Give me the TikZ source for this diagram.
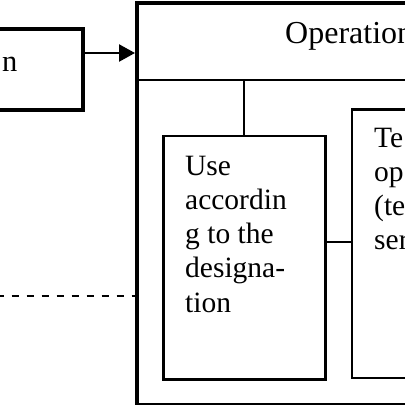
\documentclass[tikz,border=0pt]{standalone}
\usepackage{fontspec}
\setmainfont{Liberation Serif}
\usetikzlibrary{arrows.meta}
\begin{document}
\begin{tikzpicture}[x=1pt,y=-1pt,
  heavybox/.style={draw, line width=4.3pt, rectangle, inner sep=0pt, anchor=north west},
  lightbox/.style={draw, line width=2.5pt, rectangle, inner sep=0pt, anchor=north west},
  thinline/.style={line width=2.4pt},
  bigtext/.style={font=\fontsize{32}{38}\selectfont, inner sep=0pt},
  boxtext/.style={font=\fontsize{29.5}{34.2}\selectfont, inner sep=0pt, align=left, anchor=base west},
]
\useasboundingbox (0,0) rectangle (405,405);
\clip (0,0) rectangle (405,405);
\node[heavybox, minimum width=91pt, minimum height=81pt] (src) at (-10,27) {};
\node[bigtext, font=\fontsize{30.5}{36}\selectfont, anchor=base east] (srctext) at (17.5,71) {n};
\node[heavybox, minimum width=320pt, minimum height=402.5pt] (ops) at (135,0.5) {};
\node[bigtext, anchor=base west] (opstitle) at (285,43.3) {Operation};
\coordinate (divy) at (0,80);
\draw[thinline] (ops.west |- divy) -- (ops.east |- divy);
\node[lightbox, minimum width=162pt, minimum height=243.3pt] (use) at (162,134.7) {};
\node[boxtext] (usetext) at (185,312) {Use\\accordin\\g to the\\designa-\\tion};
\node[lightbox, minimum width=200pt, minimum height=268.7pt] (tech) at (350.7,108) {};
\node[boxtext] (techtext) at (374,249.7) {Te\\op\\(te\\ser};
\draw[thinline] (use.north) -- (use.north |- divy);
\coordinate (linky) at (0,242);
\draw[thinline] (use.east |- linky) -- (tech.west |- linky);
\coordinate (arrowy) at (0,53);
\draw[thinline, -{Triangle[length=16pt,width=17pt]}] (src.east |- arrowy) -- (ops.west |- arrowy);
\coordinate (dashstart) at (-3.5,296);
\draw[thinline, dash pattern=on 7.5pt off 7.5pt] (dashstart) -- (ops.west |- dashstart);
\end{tikzpicture}
\end{document}
